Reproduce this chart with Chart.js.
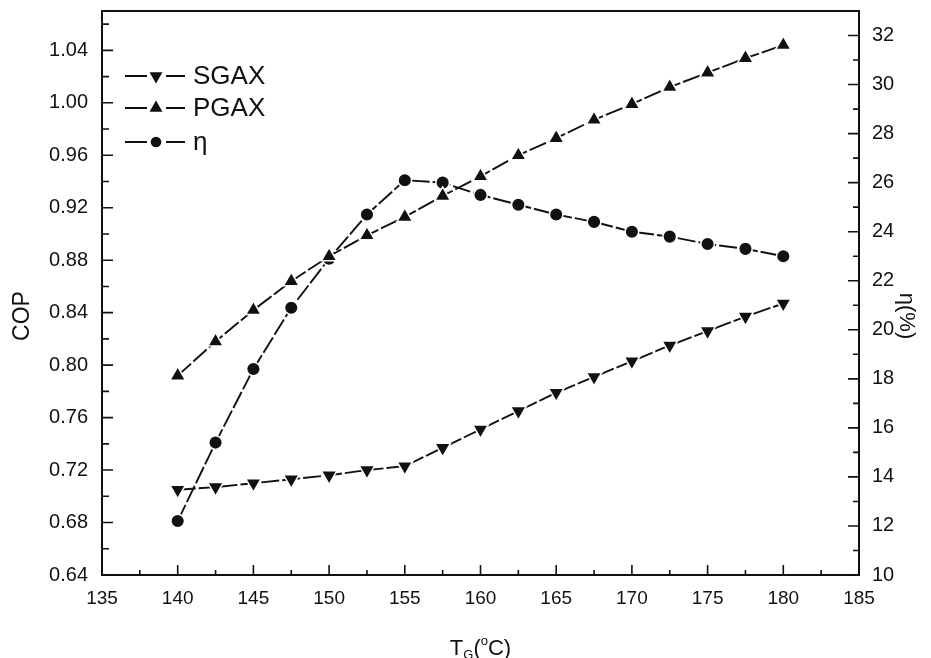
<!DOCTYPE html>
<html>
<head>
<meta charset="utf-8">
<title>COP and efficiency vs generator temperature</title>
<script src="https://cdn.jsdelivr.net/npm/chart.js@4.4.1/dist/chart.umd.min.js"></script>
<style>
  html, body { margin: 0; padding: 0; background: #fff; }
</style>
</head>
<body>
<canvas id="chart" width="931" height="658"></canvas>
<script>
// generator temperature (°C)
const temps = [140, 142.5, 145, 147.5, 150, 152.5, 155, 157.5, 160, 162.5, 165, 167.5, 170, 172.5, 175, 177.5, 180];

// COP values (left axis)
const sgax = [0.705, 0.707, 0.710, 0.713, 0.716, 0.720, 0.723, 0.737, 0.751, 0.765, 0.779, 0.791, 0.803, 0.815, 0.826, 0.837, 0.847];
const pgax = [0.792, 0.818, 0.842, 0.864, 0.883, 0.899, 0.913, 0.929, 0.944, 0.960, 0.973, 0.987, 0.999, 1.012, 1.023, 1.034, 1.044];

// efficiency eta in % (right axis)
const eta = [12.2, 15.4, 18.4, 20.9, 22.9, 24.7, 26.1, 26.0, 25.5, 25.1, 24.7, 24.4, 24.0, 23.8, 23.5, 23.3, 23.0];

// tick labels
const xTicks = [135, 140, 145, 150, 155, 160, 165, 170, 175, 180, 185];
const copTicks = [0.64, 0.68, 0.72, 0.76, 0.80, 0.84, 0.88, 0.92, 0.96, 1.00, 1.04];
const etaTicks = [10, 12, 14, 16, 18, 20, 22, 24, 26, 28, 30, 32];

const FONT = "'Liberation Sans', Arial, Helvetica, sans-serif";
const INK = '#111';

function points(ys) {
    return temps.map((t, i) => ({ x: t, y: ys[i] }));
}

// minor ticks sit halfway between the major ones
function midpoints(arr, extraTop) {
    const out = [];
    for (let i = 0; i < arr.length - 1; i++) out.push((arr[i] + arr[i + 1]) / 2);
    if (extraTop !== undefined) out.push(extraTop);
    return out;
}

// inward tick marks + frame round the plot
const frameAndTicks = {
    id: 'frameAndTicks',
    afterDraw(chart) {
        const ctx = chart.ctx;
        const a = chart.chartArea;
        const sx = chart.scales.x, sy = chart.scales.y, sy2 = chart.scales.y2;
        ctx.save();
        ctx.strokeStyle = INK;
        ctx.lineWidth = 2;
        ctx.strokeRect(a.left, a.top, a.right - a.left, a.bottom - a.top);

        ctx.lineWidth = 1.6;
        ctx.beginPath();
        xTicks.forEach(v => {
            const p = sx.getPixelForValue(v);
            ctx.moveTo(p, a.bottom); ctx.lineTo(p, a.bottom - 10);
        });
        midpoints(xTicks).forEach(v => {
            const p = sx.getPixelForValue(v);
            ctx.moveTo(p, a.bottom); ctx.lineTo(p, a.bottom - 5);
        });
        copTicks.forEach(v => {
            const p = sy.getPixelForValue(v);
            ctx.moveTo(a.left, p); ctx.lineTo(a.left + 11, p);
        });
        midpoints(copTicks, 1.06).forEach(v => {
            const p = sy.getPixelForValue(v);
            ctx.moveTo(a.left, p); ctx.lineTo(a.left + 7, p);
        });
        etaTicks.forEach(v => {
            const p = sy2.getPixelForValue(v);
            ctx.moveTo(a.right, p); ctx.lineTo(a.right - 11, p);
        });
        midpoints(etaTicks).forEach(v => {
            const p = sy2.getPixelForValue(v);
            ctx.moveTo(a.right, p); ctx.lineTo(a.right - 6, p);
        });
        ctx.stroke();
        ctx.restore();
    }
};

// axis titles: rotated COP / eta(%), and T_G(°C) with sub/superscript
const axisTitles = {
    id: 'axisTitles',
    afterDraw(chart) {
        const ctx = chart.ctx;
        const a = chart.chartArea;
        ctx.save();
        ctx.fillStyle = INK;
        ctx.textAlign = 'center';
        ctx.textBaseline = 'middle';

        ctx.font = '23px ' + FONT;
        ctx.translate(23, 316);
        ctx.rotate(-Math.PI / 2);
        ctx.fillText('COP', 0, 0);
        ctx.setTransform(1, 0, 0, 1, 0, 0);

        ctx.font = '22px ' + FONT;
        ctx.translate(906, 316);
        ctx.rotate(Math.PI / 2);
        ctx.fillText('η(%)', 0, 0);
        ctx.setTransform(1, 0, 0, 1, 0, 0);

        const parts = [
            { t: 'T', size: 22, dy: 0 },
            { t: 'G', size: 13, dy: 4 },
            { t: '(', size: 22, dy: 0 },
            { t: 'o', size: 13, dy: -10 },
            { t: 'C)', size: 22, dy: 0 }
        ];
        ctx.textAlign = 'left';
        ctx.textBaseline = 'alphabetic';
        let total = 0;
        parts.forEach(p => {
            ctx.font = p.size + 'px ' + FONT;
            p.w = ctx.measureText(p.t).width;
            total += p.w;
        });
        let x = (a.left + a.right) / 2 - total / 2;
        const base = 655;
        parts.forEach(p => {
            ctx.font = p.size + 'px ' + FONT;
            ctx.fillText(p.t, x, base + p.dy);
            x += p.w;
        });
        ctx.restore();
    }
};

// legend: line - marker - line, then the name
const lineLegend = {
    id: 'lineLegend',
    afterDraw(chart) {
        const ctx = chart.ctx;
        const rows = [76, 108, 142];
        ctx.save();
        chart.data.datasets.forEach((ds, i) => {
            const y = rows[i];
            ctx.strokeStyle = INK;
            ctx.lineWidth = 1.8;
            ctx.setLineDash([]);
            ctx.beginPath();
            ctx.moveTo(125, y); ctx.lineTo(147, y);
            ctx.moveTo(166, y); ctx.lineTo(185, y);
            ctx.stroke();
            ctx.fillStyle = INK;
            Chart.helpers.drawPoint(ctx, {
                pointStyle: ds.pointStyle,
                rotation: ds.rotation || 0,
                radius: ds.pointRadius - 1.5,
                borderWidth: 0
            }, 156, y);
            ctx.font = '26px ' + FONT;
            ctx.textBaseline = 'middle';
            ctx.textAlign = 'left';
            ctx.fillText(ds.label, 193, y + 1);
        });
        ctx.restore();
    }
};

const common = {
    borderColor: INK,
    backgroundColor: INK,
    pointBackgroundColor: INK,
    pointBorderColor: '#fff',
    pointBorderWidth: 1.5,
    borderWidth: 1.9,
    borderDash: [18, 3],
    tension: 0,
    fill: false
};

new Chart(document.getElementById('chart'), {
    type: 'line',
    data: {
        datasets: [
            Object.assign({ label: 'SGAX', data: points(sgax), yAxisID: 'y', pointStyle: 'triangle', rotation: 180, pointRadius: 9 }, common),
            Object.assign({ label: 'PGAX', data: points(pgax), yAxisID: 'y', pointStyle: 'triangle', rotation: 0, pointRadius: 9 }, common),
            Object.assign({ label: 'η', data: points(eta), yAxisID: 'y2', pointStyle: 'circle', pointRadius: 6.8 }, common)
        ]
    },
    options: {
        responsive: false,
        animation: false,
        devicePixelRatio: 1,
        layout: { padding: { top: 11, left: 0, right: 0, bottom: 0 } },
        plugins: {
            legend: { display: false },
            tooltip: { enabled: false }
        },
        scales: {
            x: {
                type: 'linear',
                position: 'bottom',
                min: 135,
                max: 185,
                grid: { display: false, drawTicks: false },
                border: { display: true, color: INK, width: 2 },
                ticks: { color: INK, font: { family: FONT, size: 19 }, padding: 12 },
                afterBuildTicks: s => { s.ticks = xTicks.map(v => ({ value: v })); },
                afterFit: s => { s.height = 83; s.paddingLeft = 0; s.paddingRight = 0; }
            },
            y: {
                type: 'linear',
                position: 'left',
                min: 0.64,
                max: 1.07,
                grid: { display: false, drawTicks: false },
                border: { display: true, color: INK, width: 2 },
                ticks: {
                    color: INK,
                    font: { family: FONT, size: 20 },
                    padding: 14,
                    callback: v => v.toFixed(2)
                },
                afterBuildTicks: s => { s.ticks = copTicks.map(v => ({ value: v })); },
                afterFit: s => { s.width = 102; s.paddingTop = 0; s.paddingBottom = 0; }
            },
            y2: {
                type: 'linear',
                position: 'right',
                min: 10,
                max: 33,
                grid: { display: false, drawTicks: false },
                border: { display: true, color: INK, width: 2 },
                ticks: { color: INK, font: { family: FONT, size: 20 }, padding: 13 },
                afterBuildTicks: s => { s.ticks = etaTicks.map(v => ({ value: v })); },
                afterFit: s => { s.width = 72; s.paddingTop = 0; s.paddingBottom = 0; }
            }
        }
    },
    plugins: [frameAndTicks, axisTitles, lineLegend]
});
</script>
</body>
</html>
